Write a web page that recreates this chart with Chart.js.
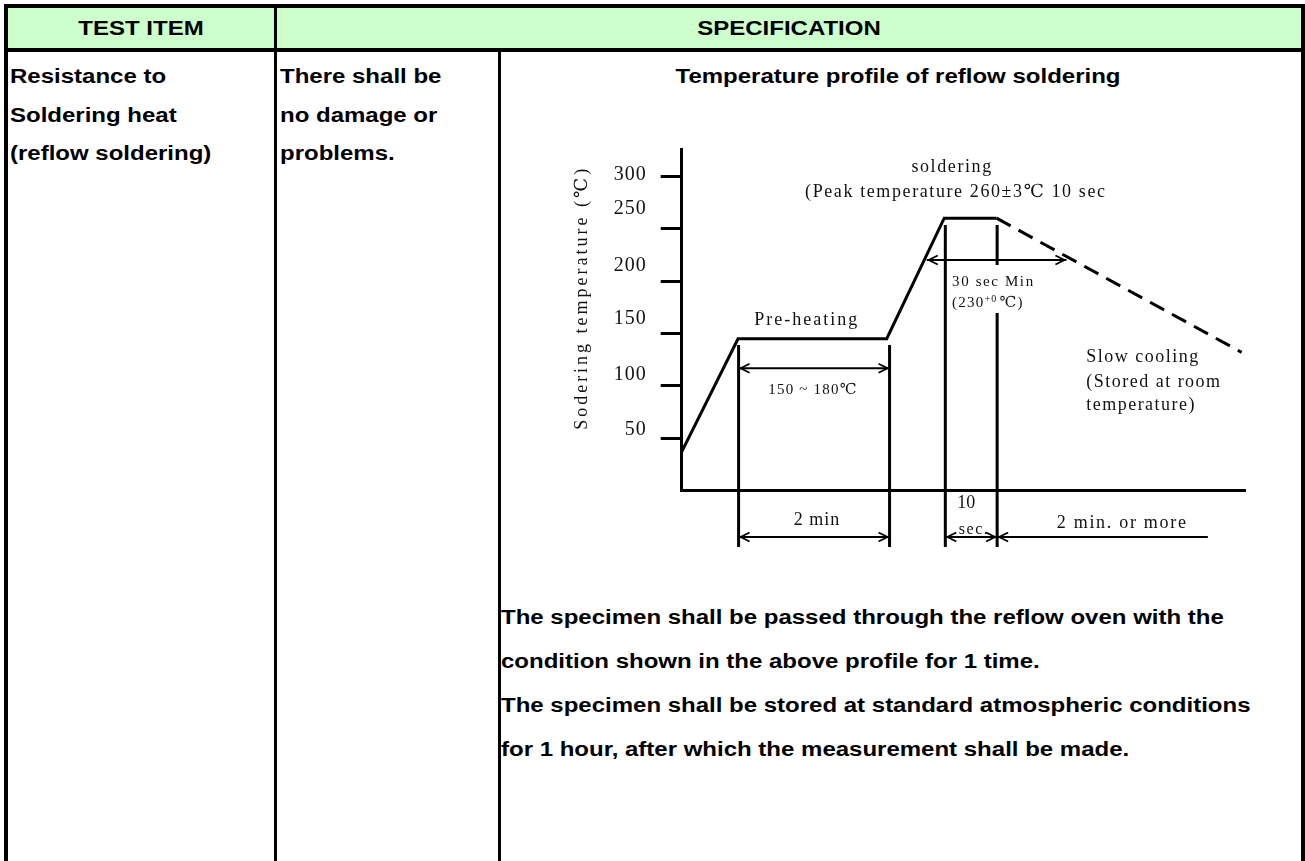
<!DOCTYPE html>
<html>
<head>
<meta charset="utf-8">
<script src="https://cdn.jsdelivr.net/npm/chart.js@4.4.1/dist/chart.umd.min.js"></script>
<style>
  html, body { margin: 0; padding: 0; background: #fff; overflow: hidden; }
  body { width: 1305px; height: 861px; position: relative; font-family: "Liberation Sans", Arial, sans-serif; font-weight: bold; font-size: 20px; color: #000; }
  .ln { position: absolute; background: #000; }
  .t { position: absolute; height: 22px; line-height: 22px; white-space: nowrap; transform: scaleX(1.2); transform-origin: left center; }
  .c { text-align: center; transform-origin: center center; }
  #head { position: absolute; left: 8px; top: 8px; width: 1293px; height: 40px; background: #ccffcc; }
  #chartBox { position: absolute; left: 501px; top: 52px; width: 800px; height: 540px; }
</style>
</head>
<body>
<div id="head"></div>
<div class="ln" style="left:4px;top:4px;width:1301px;height:4px"></div>
<div class="ln" style="left:4px;top:4px;width:4px;height:857px"></div>
<div class="ln" style="left:1301px;top:4px;width:4px;height:857px"></div>
<div class="ln" style="left:4px;top:48px;width:1301px;height:4px"></div>
<div class="ln" style="left:274px;top:8px;width:3px;height:853px"></div>
<div class="ln" style="left:498px;top:52px;width:3px;height:809px"></div>

<div class="t c" style="left:8px;width:266px;top:17px">TEST ITEM</div>
<div class="t c" style="left:277px;width:1024px;top:17px">SPECIFICATION</div>

<div class="t" style="left:10px;top:65px">Resistance to</div>
<div class="t" style="left:10px;top:104px">Soldering heat</div>
<div class="t" style="left:10px;top:142px">(reflow soldering)</div>

<div class="t" style="left:280px;top:65px">There shall be</div>
<div class="t" style="left:280px;top:104px">no damage or</div>
<div class="t" style="left:280px;top:142px">problems.</div>

<div class="t c" style="left:501px;width:794px;top:65px">Temperature profile of reflow soldering</div>

<div class="t" style="left:501px;top:606px">The specimen shall be passed through the reflow oven with the</div>
<div class="t" style="left:501px;top:650px">condition shown in the above profile for 1 time.</div>
<div class="t" style="left:501px;top:694px">The specimen shall be stored at standard atmospheric conditions</div>
<div class="t" style="left:501px;top:738px">for 1 hour, after which the measurement shall be made.</div>

<div id="chartBox"><canvas id="profile" width="800" height="540"></canvas></div>

<script>
// reflow profile, x in schematic time units (0-100), y in degrees C
const profileX = [0, 10, 36.4, 46.6, 55.9];
const profileY = [37, 145, 145, 260, 260];
const coolingX = [55.9, 99.4];
const coolingY = [260, 132];

// vertical guide lines
const guideX = [10.1, 36.9, 46.8, 56.0, 56.0];
const guideTop = [139, 139, 253.5, 253.5, 169.6];
const guideBottom = [-53.7, -53.7, -53.7, 215.4, -53.7];

// dimension arrows
const arrowY = [116.8, -44.2, -44.2, -44.2, 220.1];
const arrowFrom = [10.1, 10.1, 46.8, 56.0, 43.5];
const arrowTo = [36.9, 36.9, 56.0, 93.4, 68.3];
const arrowHeads = ['both', 'both', 'both', 'start', 'both'];

// y axis
const tickValues = [50, 100, 150, 200, 250, 300];
const tickLabels = ['50', '100', '150', '200', '250', '300'];
const tickLabelY = [57.9, 110.4, 163.8, 214.4, 268.6, 301.1];
const yTitle = 'Sodering temperature (\u2103)';

// notes on the drawing
const notes = [
    { text: 'soldering', x: 48.0, y: 309, align: 'center', size: 18, ls: 1.6 },
    { text: '(Peak temperature 260\u00b13\u2103 10 sec', x: 21.9, y: 285, align: 'left', size: 18, ls: 1.6 },
    { text: '30 sec Min', x: 48.0, y: 199, align: 'left', size: 15, ls: 1.6 },
    { text: 'Pre-heating', x: 22.2, y: 163, align: 'center', size: 18, ls: 2 },
    { text: '150 ~ 180\u2103', x: 23.3, y: 96, align: 'center', size: 15, ls: 1.2 },
    { text: '2 min', x: 24.0, y: -27.8, align: 'center', size: 18, ls: 1 },
    { text: '10', x: 50.5, y: -11.7, align: 'center', size: 18, ls: 0 },
    { text: 'sec.', x: 51.9, y: -37.5, align: 'center', size: 16, ls: 1.5 },
    { text: '2 min. or more', x: 78.2, y: -31.0, align: 'center', size: 18, ls: 1.7 },
    { text: 'Slow cooling', x: 71.8, y: 127.6, align: 'left', size: 18, ls: 1.5 },
    { text: '(Stored at room', x: 71.8, y: 103.7, align: 'left', size: 18, ls: 1.5 },
    { text: 'temperature)', x: 71.8, y: 81.8, align: 'left', size: 18, ls: 1.5 }
];

const serif = '"Liberation Serif", "DejaVu Serif", serif';

function pts(xs, ys) {
    return xs.map((x, i) => ({ x: x, y: ys[i] }));
}

const lineBase = { showLine: true, borderColor: '#000', pointRadius: 0, clip: false, tension: 0 };

const datasets = [];
datasets.push(Object.assign({}, lineBase, { data: pts(profileX, profileY), borderWidth: 3 }));
datasets.push(Object.assign({}, lineBase, { data: pts(coolingX, coolingY), borderWidth: 3, borderDash: [16, 9] }));
guideX.forEach((x, i) => {
    datasets.push(Object.assign({}, lineBase, { data: [{ x: x, y: guideTop[i] }, { x: x, y: guideBottom[i] }], borderWidth: 3 }));
});
arrowY.forEach((y, i) => {
    datasets.push(Object.assign({}, lineBase, { data: [{ x: arrowFrom[i], y: y }, { x: arrowTo[i], y: y }], borderWidth: 2 }));
});

function drawHead(ctx, x, y, dir) {
    ctx.beginPath();
    ctx.moveTo(x - dir * 9, y - 4.5);
    ctx.lineTo(x, y);
    ctx.lineTo(x - dir * 9, y + 4.5);
    ctx.stroke();
}

function setLs(ctx, v) {
    if ('letterSpacing' in ctx) ctx.letterSpacing = v + 'px';
}

const annotate = {
    id: 'annotate',
    afterDatasetsDraw(chart) {
        const ctx = chart.ctx;
        const xs = chart.scales.x, ys = chart.scales.y;
        ctx.save();
        ctx.strokeStyle = '#000';
        ctx.fillStyle = '#111';
        ctx.lineWidth = 1.8;

        // arrow heads
        arrowY.forEach((y, i) => {
            const py = ys.getPixelForValue(y);
            const a = xs.getPixelForValue(arrowFrom[i]);
            const b = xs.getPixelForValue(arrowTo[i]);
            if (arrowHeads[i] === 'both' || arrowHeads[i] === 'start') drawHead(ctx, a + 2, py, -1);
            if (arrowHeads[i] === 'both' || arrowHeads[i] === 'end') drawHead(ctx, b - 2, py, 1);
        });

        ctx.textBaseline = 'middle';

        // y tick labels
        ctx.font = '20px ' + serif;
        ctx.textAlign = 'right';
        setLs(ctx, 1);
        tickLabels.forEach((t, i) => {
            ctx.fillText(t, chart.chartArea.left - 35, ys.getPixelForValue(tickLabelY[i]));
        });

        // y title
        ctx.save();
        ctx.translate(chart.chartArea.left - 99, ys.getPixelForValue(184));
        ctx.rotate(-Math.PI / 2);
        ctx.textAlign = 'center';
        ctx.font = '18px ' + serif;
        setLs(ctx, 3);
        ctx.fillText(yTitle, 0, 0);
        ctx.restore();

        // notes
        notes.forEach(n => {
            ctx.font = n.size + 'px ' + serif;
            ctx.textAlign = n.align;
            setLs(ctx, n.ls);
            ctx.fillText(n.text, xs.getPixelForValue(n.x), ys.getPixelForValue(n.y));
        });

        // (230 +0 C) with superscript
        let px = xs.getPixelForValue(48.0);
        const py = ys.getPixelForValue(179);
        ctx.textAlign = 'left';
        setLs(ctx, 1.2);
        ctx.font = '15px ' + serif;
        ctx.fillText('(230', px, py);
        px += ctx.measureText('(230').width;
        ctx.font = '10px ' + serif;
        ctx.fillText('+0', px, py - 4);
        px += ctx.measureText('+0').width + 2;
        ctx.font = '15px ' + serif;
        ctx.fillText('\u2103)', px, py);
        ctx.restore();
    }
};

new Chart(document.getElementById('profile'), {
    type: 'scatter',
    data: { datasets: datasets },
    options: {
        responsive: false,
        animation: false,
        events: [],
        layout: { padding: { left: 0, top: 97, right: 56, bottom: 101.3 } },
        plugins: { legend: { display: false }, tooltip: { enabled: false } },
        scales: {
            x: {
                type: 'linear',
                min: 0,
                max: 100,
                ticks: { display: false },
                grid: { drawOnChartArea: false, drawTicks: false, color: 'rgba(0,0,0,0)' },
                border: { display: true, color: '#000', width: 3 },
                afterFit: s => { s.height = 0; }
            },
            y: {
                type: 'linear',
                min: 0,
                max: 326,
                afterBuildTicks: s => { s.ticks = tickValues.map(v => ({ value: v })); },
                ticks: { display: false },
                grid: { drawOnChartArea: false, drawTicks: true, tickLength: 21, color: '#000', lineWidth: 3 },
                border: { display: true, color: '#000', width: 3 },
                afterFit: s => { s.width = 180.7; }
            }
        }
    },
    plugins: [annotate]
});
</script>
</body>
</html>
